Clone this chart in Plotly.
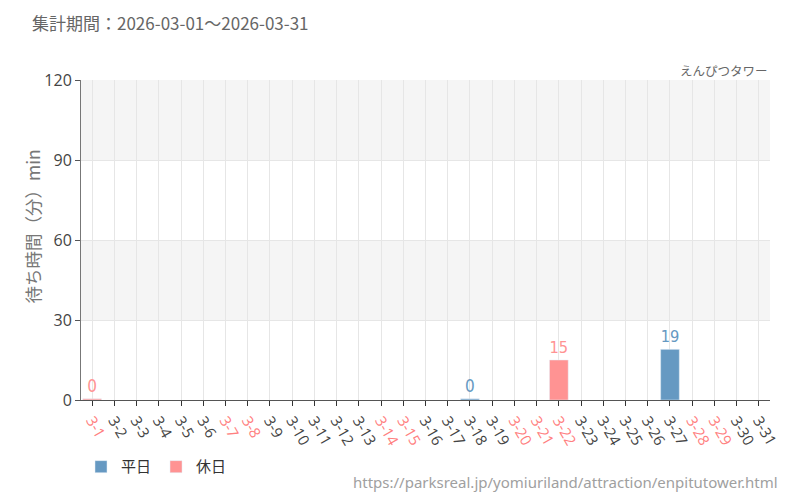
import plotly.graph_objects as go

# --- data -------------------------------------------------------------
days = [f"3-{d}" for d in range(1, 32)]
holidays = ["3-1", "3-7", "3-8", "3-14", "3-15", "3-20", "3-21", "3-22", "3-28", "3-29"]

# average wait (min) per day; None = no data
weekday_wait = {"3-18": 0, "3-27": 19}
holiday_wait = {"3-1": 0, "3-22": 15}

y_ticks = [0, 30, 60, 90, 120]

WEEKDAY_COLOR = "#6699c2"
HOLIDAY_COLOR = "#ff9393"
MIN_H = 0.45  # so that zero-wait bars stay visible as a thin line
NARROW = "DejaVu Sans Condensed"


def series(values):
    ys, txt = [], []
    for d in days:
        v = values.get(d)
        ys.append(None if v is None else max(v, MIN_H))
        txt.append("" if v is None else str(v))
    return ys, txt


wk_y, wk_txt = series(weekday_wait)
hd_y, hd_txt = series(holiday_wait)

tick_text = [
    f"<span style='color:#ff8080'>{d}</span>" if d in holidays else d
    for d in days
]

fig = go.Figure()
fig.add_trace(go.Bar(
    x=days, y=wk_y, name="平日", marker_color=WEEKDAY_COLOR,
    text=wk_txt, textposition="outside", cliponaxis=False,
    textfont=dict(color=WEEKDAY_COLOR, size=17, family=NARROW),
    width=0.84,
))
fig.add_trace(go.Bar(
    x=days, y=hd_y, name="休日", marker_color=HOLIDAY_COLOR,
    text=hd_txt, textposition="outside", cliponaxis=False,
    textfont=dict(color=HOLIDAY_COLOR, size=17, family=NARROW),
    width=0.84,
))

# alternating background bands
for lo, hi in [(30, 60), (90, 120)]:
    fig.add_shape(type="rect", xref="paper", yref="y", x0=0, x1=1, y0=lo, y1=hi,
                  fillcolor="#f5f5f5", line_width=0, layer="below")

# page body has an 8px margin, so the figure is 792x492 and shifted margins
fig.update_layout(
    width=792, height=492,
    barmode="overlay",
    plot_bgcolor="white", paper_bgcolor="white",
    font=dict(family="Noto Sans CJK JP", color="#444", size=14),
    margin=dict(l=73, r=30, t=72, b=100, autoexpand=False),
    showlegend=True,
    legend=dict(orientation="h", x=0.0, xanchor="left", y=-0.209, yanchor="middle",
                font=dict(size=15, color="#333"), itemwidth=30,
                bgcolor="rgba(0,0,0,0)"),
)

fig.update_xaxes(
    type="category", tickmode="array", tickvals=days, ticktext=tick_text,
    tickangle=60, ticks="outside", ticklen=5, tickcolor="#333",
    showline=True, linecolor="#555", linewidth=1, automargin=False,
    showgrid=True, gridcolor="#e6e6e6",
    tickfont=dict(size=15, color="#444", family="Open Sans"),
)
fig.update_yaxes(
    range=[0, 120], tickvals=y_ticks, ticks="outside", ticklen=5, tickcolor="#555",
    showline=True, linecolor="#777", linewidth=1, automargin=False,
    showgrid=True, gridcolor="#e6e6e6", zeroline=False,
    tickfont=dict(size=16, color="#444", family="Open Sans"),
)

fig.add_annotation(text="待ち時間（分）min", xref="paper", yref="paper",
                   x=-0.0697, y=0.542, xanchor="center", yanchor="middle",
                   textangle=-90, showarrow=False,
                   font=dict(size=17.5, color="#777"))
fig.add_annotation(text="集計期間：2026-03-01～2026-03-31", xref="paper", yref="paper",
                   x=-0.074, y=1.181, xanchor="left", yanchor="middle", showarrow=False,
                   font=dict(size=17, color="#666"))
fig.add_annotation(text="えんぴつタワー", xref="paper", yref="paper",
                   x=1, y=1.031, xanchor="right", yanchor="middle", showarrow=False,
                   font=dict(size=12.5, color="#666"))
fig.add_annotation(text="https://parksreal.jp/yomiuriland/attraction/enpitutower.html",
                   xref="paper", yref="paper", x=1.0145, y=-0.256, xanchor="right",
                   yanchor="middle", showarrow=False,
                   font=dict(size=15, color="#a0a0a0", family="Noto Sans"))

fig.write_html("out.html")
